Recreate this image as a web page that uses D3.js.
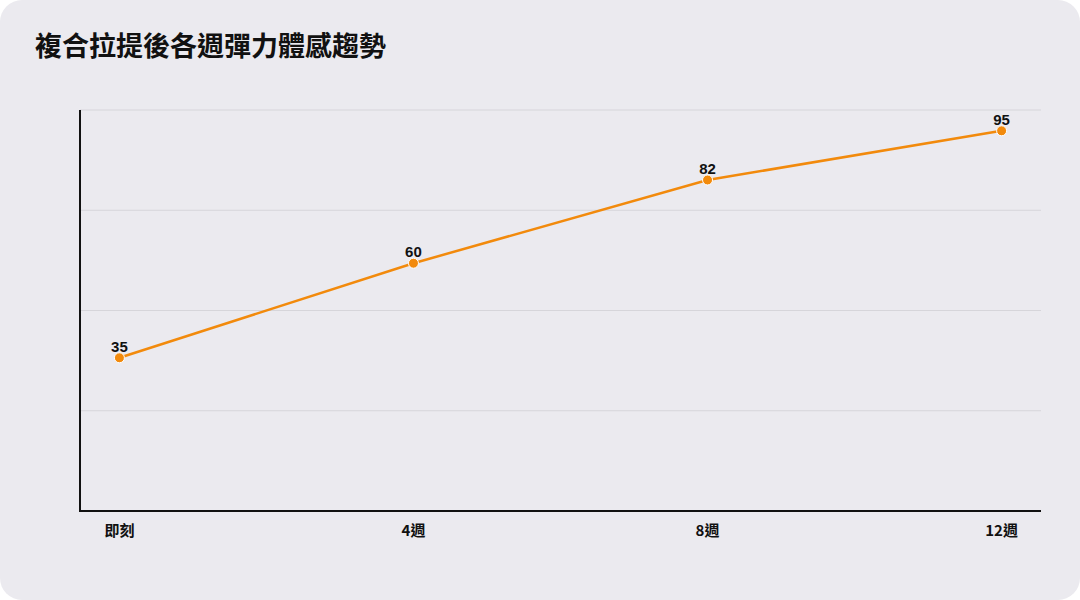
<!DOCTYPE html>
<html>
<head>
<meta charset="utf-8">
<script src="https://cdn.jsdelivr.net/npm/d3@7"></script>
<style>
  body { margin: 0; background: #ffffff; }
  svg { display: block; font-family: "Noto Sans CJK TC", "Noto Sans", sans-serif; }
</style>
</head>
<body>
<svg id="chart"></svg>
<script>
const width = 1080;
const height = 600;

// 數據
const categories = ['即刻', '4週', '8週', '12週'];
const values = [35, 60, 82, 95];
const yDomain = [-5.5, 100.5];
const gridCount = 5;

const svg = d3.select('#chart')
  .attr('width', width)
  .attr('height', height);

// 背景卡片
svg.append('rect')
  .attr('width', width)
  .attr('height', height)
  .attr('rx', 22)
  .attr('fill', '#ebeaef');

svg.append('text')
  .attr('x', 35)
  .attr('y', 56)
  .attr('font-size', 27)
  .attr('font-weight', 700)
  .attr('fill', '#111')
  .text('複合拉提後各週彈力體感趨勢');

const plotLeft = 80, plotRight = 1041, plotTop = 110, plotBottom = 511;

const x = d3.scalePoint()
  .domain(categories)
  .range([plotLeft, plotRight])
  .padding(0.134);

const y = d3.scaleLinear()
  .domain(yDomain)
  .range([plotBottom, plotTop]);

// 橫向格線
const gridVals = d3.range(gridCount).map(i => yDomain[0] + i * (yDomain[1] - yDomain[0]) / (gridCount - 1));
svg.append('g')
  .selectAll('line')
  .data(gridVals.slice(1))
  .enter()
  .append('line')
  .attr('x1', plotLeft)
  .attr('x2', plotRight)
  .attr('y1', d => y(d))
  .attr('y2', d => y(d))
  .attr('stroke', '#d6d5da')
  .attr('stroke-width', 1);

// 座標軸
svg.append('line')
  .attr('x1', plotLeft).attr('x2', plotLeft)
  .attr('y1', plotTop).attr('y2', plotBottom)
  .attr('stroke', '#111').attr('stroke-width', 2);
svg.append('line')
  .attr('x1', plotLeft - 1).attr('x2', plotRight)
  .attr('y1', plotBottom).attr('y2', plotBottom)
  .attr('stroke', '#111').attr('stroke-width', 2);

svg.append('g')
  .selectAll('text')
  .data(categories)
  .enter()
  .append('text')
  .attr('x', d => x(d))
  .attr('y', plotBottom + 25)
  .attr('text-anchor', 'middle')
  .attr('font-size', 15)
  .attr('font-weight', 700)
  .attr('fill', '#111')
  .text(d => d);

// 折線
const data = categories.map((c, i) => ({ c: c, v: values[i] }));
const line = d3.line()
  .x(d => x(d.c))
  .y(d => y(d.v));

svg.append('path')
  .datum(data)
  .attr('d', line)
  .attr('fill', 'none')
  .attr('stroke', '#f28a0c')
  .attr('stroke-width', 2.5);

svg.append('g')
  .selectAll('circle')
  .data(data)
  .enter()
  .append('circle')
  .attr('cx', d => x(d.c))
  .attr('cy', d => y(d.v))
  .attr('r', 5)
  .attr('fill', '#f28a0c')
  .attr('stroke', '#ffffff')
  .attr('stroke-width', 1);

svg.append('g')
  .selectAll('text')
  .data(data)
  .enter()
  .append('text')
  .attr('x', d => x(d.c))
  .attr('y', d => y(d.v) - 6)
  .attr('text-anchor', 'middle')
  .attr('font-family', '"Liberation Sans", Arial, sans-serif')
  .attr('font-size', 15)
  .attr('font-weight', 700)
  .attr('fill', '#111')
  .text(d => d.v);
</script>
</body>
</html>
